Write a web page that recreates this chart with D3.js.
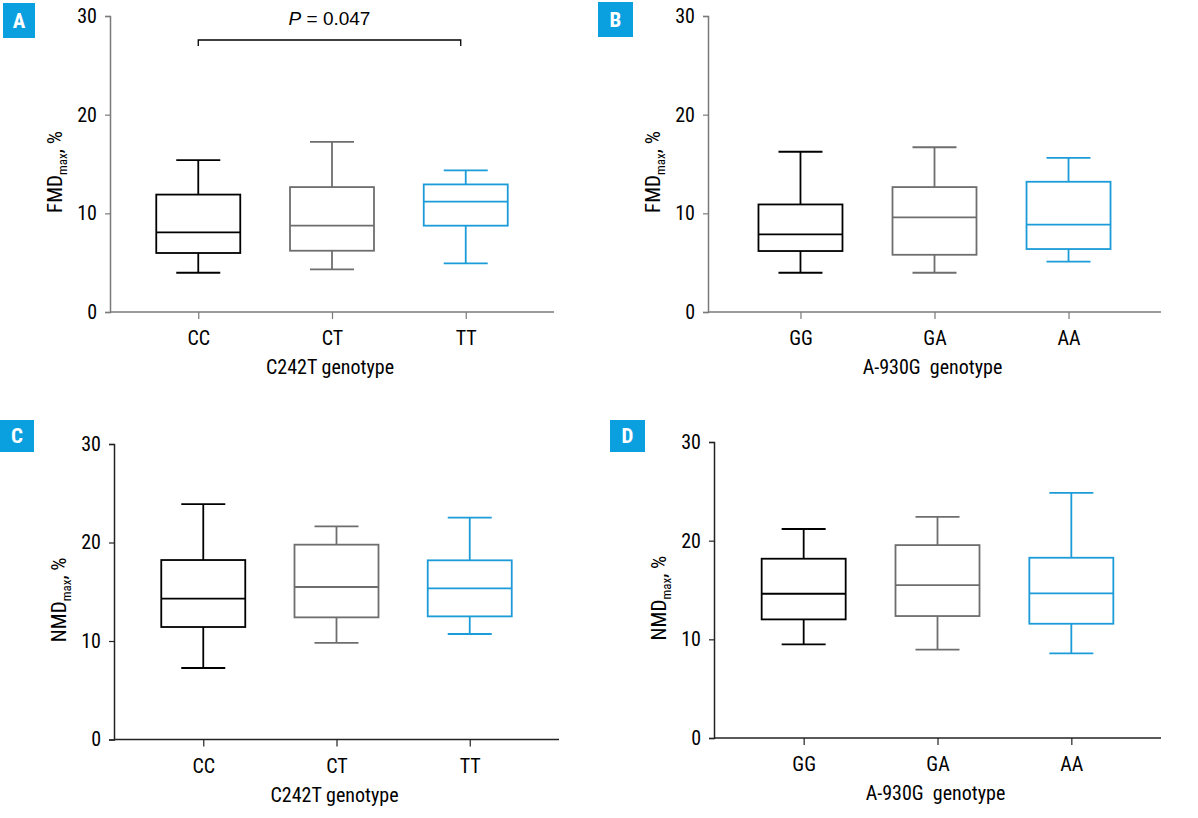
<!DOCTYPE html>
<html>
<head>
<meta charset="utf-8">
<script src="https://cdn.jsdelivr.net/npm/d3@7"></script>
<style>
  html, body { margin: 0; padding: 0; background: #fff; }
  svg text { font-family: "Liberation Sans Narrow", "Roboto Condensed", "DejaVu Sans Condensed", "Liberation Sans", sans-serif; }
</style>
</head>
<body>
<svg id="chart" width="1198" height="818"></svg>
<script>
// ---------------- DATA ----------------
const yTicks = [0, 10, 20, 30];
const c242tCategories = ["CC", "CT", "TT"];
const a930gCategories = ["GG", "GA", "AA"];
const panelLetters = ["A", "B", "C", "D"];
const xTitles = ["C242T genotype", "A-930G  genotype", "C242T genotype", "A-930G  genotype"];
const yMetric = ["FMD", "FMD", "NMD", "NMD"];
const pLabel = "P = 0.047";

// [lower whisker, Q1, median, Q3, upper whisker]
const fmdC242T = [
  [3.98, 5.98, 8.07, 11.9, 15.4],
  [4.32, 6.21, 8.75, 12.66, 17.25],
  [4.93, 8.75, 11.18, 12.93, 14.35]
];
const fmdA930G = [
  [3.98, 6.18, 7.87, 10.9, 16.24],
  [3.98, 5.8, 9.59, 12.66, 16.7],
  [5.1, 6.38, 8.85, 13.2, 15.63]
];
const nmdC242T = [
  [7.26, 11.42, 14.3, 18.22, 23.9],
  [9.8, 12.4, 15.48, 19.78, 21.64],
  [10.71, 12.5, 15.35, 18.19, 22.52]
];
const nmdA930G = [
  [9.49, 12.02, 14.62, 18.17, 21.18],
  [8.95, 12.36, 15.5, 19.55, 22.42],
  [8.58, 11.58, 14.66, 18.27, 24.85]
];

// ---------------- LAYOUT / STYLE ----------------
const seriesColors = ["#000000", "#6e6e6e", "#1b9bd8"];
const panels = [
  { cats: c242tCategories, data: fmdC242T, x0: 110, x1: 554, yz: 312, yt: 16, pad: 0.66, axisColor: "#7a7a7a", box: [3, 3, 32, 35] },
  { cats: a930gCategories, data: fmdA930G, x0: 708, x1: 1161, yz: 312, yt: 16, pad: 0.69, axisColor: "#7a7a7a", box: [598, 2, 35, 35] },
  { cats: c242tCategories, data: nmdC242T, x0: 114, x1: 559, yz: 739.5, yt: 444, pad: 0.67, axisColor: "#222", box: [0, 420, 34, 32] },
  { cats: a930gCategories, data: nmdA930G, x0: 714, x1: 1161, yz: 738, yt: 442, pad: 0.67, axisColor: "#222", box: [610, 420, 35, 32] }
];

const svg = d3.select("#chart");

panels.forEach((p, i) => {
  const g = svg.append("g");
  const y = d3.scaleLinear().domain([0, 30]).range([p.yz, p.yt]);
  const x = d3.scalePoint().domain(p.cats).range([p.x0, p.x1]).padding(p.pad);

  // y axis
  const yAxis = g.append("g").attr("transform", `translate(${p.x0},0)`)
    .call(d3.axisLeft(y).tickValues(yTicks).tickSize(5).tickPadding(8).tickFormat(d3.format("d")));
  yAxis.select(".domain").attr("stroke", p.axisColor).attr("stroke-width", 1.5);
  yAxis.selectAll(".tick line").attr("stroke", p.axisColor).attr("stroke-width", 1.2);
  yAxis.selectAll(".tick text").attr("fill", "#000").style("font-size", "20px");

  // x axis
  const xAxis = g.append("g").attr("transform", `translate(0,${p.yz})`)
    .call(d3.axisBottom(x).tickSize(7).tickPadding(12));
  xAxis.select(".domain").attr("d", `M${p.x0},0H${p.x1}`).attr("stroke", p.axisColor).attr("stroke-width", 1.5);
  xAxis.selectAll(".tick line").attr("stroke", p.axisColor).attr("stroke-width", 1.2);
  xAxis.selectAll(".tick text").attr("fill", "#000").style("font-size", "20px");

  // x title
  g.append("text")
    .attr("x", (p.x0 + p.x1) / 2 - 2)
    .attr("y", p.yz + 62)
    .attr("text-anchor", "middle")
    .style("font-size", "20px")
    .style("white-space", "pre")
    .attr("xml:space", "preserve")
    .text(xTitles[i]);

  // y title
  const yt = g.append("text")
    .attr("transform", `translate(${p.x0 - 48},${(p.yz + p.yt) / 2 + 8}) rotate(-90)`)
    .attr("text-anchor", "middle")
    .style("font-size", "21px");
  yt.append("tspan").text(yMetric[i]);
  yt.append("tspan").attr("dy", 5).style("font-size", "13px").text("max");
  yt.append("tspan").attr("dy", -5).text(", %");

  // boxes
  const hw = 42, cw = 22;
  p.data.forEach((d, j) => {
    const cx = x(p.cats[j]);
    const col = seriesColors[j];
    const bg = g.append("g").attr("stroke", col).attr("stroke-width", 1.8).attr("fill", "none");
    bg.append("line").attr("x1", cx).attr("x2", cx).attr("y1", y(d[0])).attr("y2", y(d[1]));
    bg.append("line").attr("x1", cx).attr("x2", cx).attr("y1", y(d[3])).attr("y2", y(d[4]));
    bg.append("line").attr("x1", cx - cw).attr("x2", cx + cw).attr("y1", y(d[0])).attr("y2", y(d[0]));
    bg.append("line").attr("x1", cx - cw).attr("x2", cx + cw).attr("y1", y(d[4])).attr("y2", y(d[4]));
    bg.append("rect").attr("x", cx - hw).attr("width", 2 * hw)
      .attr("y", y(d[3])).attr("height", y(d[1]) - y(d[3]));
    bg.append("line").attr("x1", cx - hw).attr("x2", cx + hw).attr("y1", y(d[2])).attr("y2", y(d[2]));
  });

  // panel letter
  const [bx, by, bw, bh] = p.box;
  svg.append("rect").attr("x", bx).attr("y", by).attr("width", bw).attr("height", bh).attr("fill", "#0aa0e0");
  svg.append("text").attr("x", bx + bw / 2).attr("y", by + bh / 2 + 7)
    .attr("text-anchor", "middle").attr("fill", "#fff")
    .style("font-size", "21px").style("font-weight", "bold")
    .text(panelLetters[i]);

  // significance bracket (panel A)
  if (i === 0) {
    const xa = x(p.cats[0]), xb = x(p.cats[2]) - 5;
    g.append("path")
      .attr("d", `M${xa},46V40H${xb}V46`)
      .attr("fill", "none").attr("stroke", "#000").attr("stroke-width", 1.3);
    const pt = g.append("text")
      .attr("x", (xa + xb) / 2)
      .attr("y", 25)
      .attr("text-anchor", "middle")
      .style("font-family", "'Liberation Sans', Arial, sans-serif")
      .style("font-size", "19px");
    pt.append("tspan").style("font-style", "italic").text(pLabel.split(" ")[0]);
    pt.append("tspan").text(" " + pLabel.split(" ").slice(1).join(" "));
  }
});
</script>
</body>
</html>
